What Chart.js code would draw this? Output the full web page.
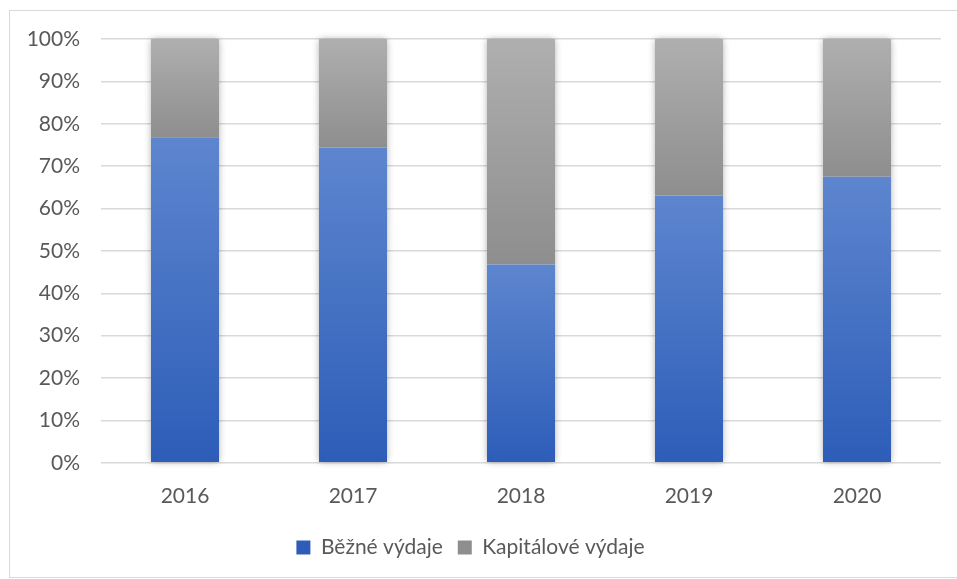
<!DOCTYPE html>
<html>
<head>
<meta charset="utf-8">
<script src="https://cdn.jsdelivr.net/npm/chart.js@4"></script>
<style>
  body { margin: 0; background: #fff; }
  #wrap { width: 957px; height: 579px; }
</style>
</head>
<body>
<div id="wrap"><canvas id="graf" width="957" height="579"></canvas></div>
<script>
const roky = ['2016', '2017', '2018', '2019', '2020'];
const bezne = [76.8, 74.4, 46.8, 63.1, 67.5];
const kapitalove = [23.2, 25.6, 53.2, 36.9, 32.5];
const yTicks = [0, 10, 20, 30, 40, 50, 60, 70, 80, 90, 100];

const barvy = [
  { top: '#5E86CF', bottom: '#2D5DB8', flat: '#4472C4' },
  { top: '#AFAFAF', bottom: '#8E8E8E', flat: '#A5A5A5' }
];

function prechod(c) {
  const chart = c.chart;
  const b = barvy[c.datasetIndex];
  if (c.dataIndex === undefined || !chart.chartArea) return b.flat;
  const y = chart.scales.y;
  let start = 0;
  for (let i = 0; i < c.datasetIndex; i++) start += chart.data.datasets[i].data[c.dataIndex];
  const end = start + chart.data.datasets[c.datasetIndex].data[c.dataIndex];
  const g = chart.ctx.createLinearGradient(0, y.getPixelForValue(end), 0, y.getPixelForValue(start));
  g.addColorStop(0, b.top);
  g.addColorStop(1, b.bottom);
  return g;
}

// ramecek a stin pod sloupci
const ramecek = {
  id: 'ramecek',
  beforeDraw(chart) {
    const ctx = chart.ctx;
    ctx.save();
    ctx.strokeStyle = '#D9D9D9';
    ctx.lineWidth = 1;
    ctx.strokeRect(9.5, 10.5, 960, 567);
    ctx.restore();
  },
  beforeDatasetsDraw(chart) {
    const ctx = chart.ctx;
    const m0 = chart.getDatasetMeta(0).data;
    const m1 = chart.getDatasetMeta(1).data;
    ctx.save();
    ctx.shadowColor = 'rgba(0,0,0,0.35)';
    ctx.shadowBlur = 7;
    ctx.fillStyle = '#fff';
    m0.forEach((el, i) => {
      const top = m1[i].y;
      ctx.fillRect(el.x - el.width / 2, top, el.width, el.base - top);
    });
    ctx.restore();
  }
};

const pismo = { family: 'Lato', size: 21 };

new Chart(document.getElementById('graf'), {
  type: 'bar',
  data: {
    labels: roky,
    datasets: [
      { label: 'Běžné výdaje', data: bezne, backgroundColor: prechod },
      { label: 'Kapitálové výdaje', data: kapitalove, backgroundColor: prechod }
    ]
  },
  options: {
    responsive: false,
    animation: false,
    layout: { padding: { left: 0, right: 16, top: 39, bottom: 11 } },
    datasets: { bar: { barPercentage: 0.405, categoryPercentage: 1 } },
    scales: {
      x: {
        stacked: true,
        grid: { display: false },
        border: { display: false },
        ticks: { color: '#595959', font: pismo, padding: 13 }
      },
      y: {
        stacked: true,
        min: 0,
        max: 100,
        afterFit(s) { s.width = 101; },
        afterBuildTicks(s) { s.ticks = yTicks.map(v => ({ value: v })); },
        grid: { color: '#D9D9D9', lineWidth: 1.5, drawTicks: false },
        border: { display: false },
        ticks: {
          color: '#595959',
          font: pismo,
          padding: 21,
          callback: v => v + '%'
        }
      }
    },
    plugins: {
      legend: {
        position: 'bottom',
        labels: {
          color: '#595959',
          font: pismo,
          boxWidth: 14,
          boxHeight: 14,
          padding: 15
        }
      },
      tooltip: { enabled: false }
    }
  },
  plugins: [ramecek]
});
</script>
</body>
</html>
